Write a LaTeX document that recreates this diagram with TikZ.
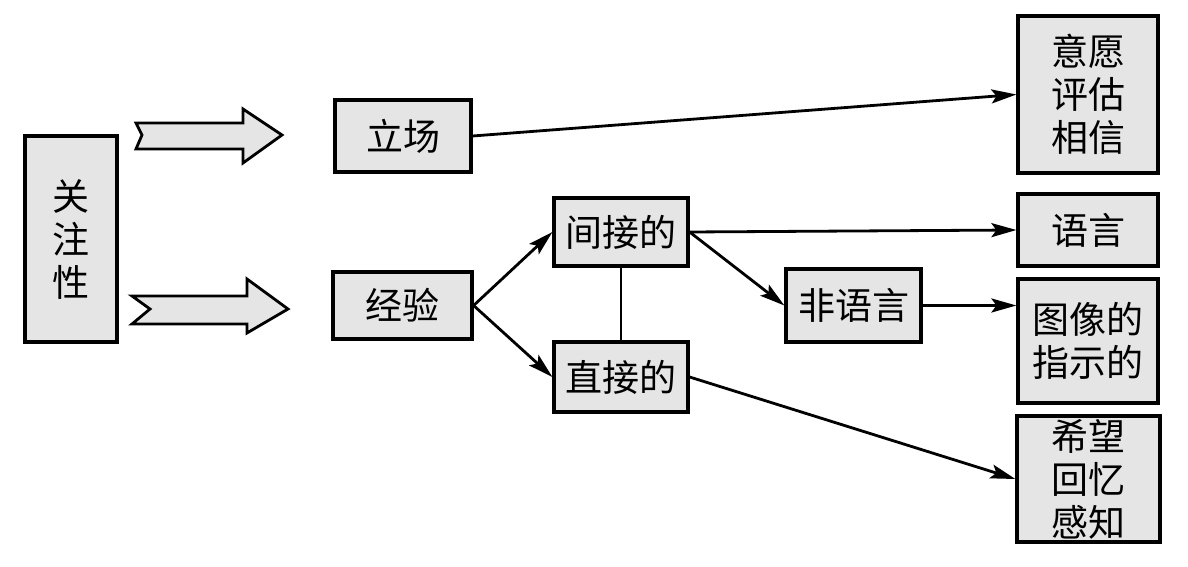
\documentclass[tikz,border=0pt]{standalone}
\usepackage{fontspec}
\newfontfamily\cjk{Noto Sans CJK SC}
\usetikzlibrary{arrows.meta}
\definecolor{boxfill}{RGB}{229,229,229}
\begin{document}
\begin{tikzpicture}[x=1pt,y=-1pt,
  box/.style={draw=black, line width=3.2pt, fill=boxfill, inner sep=0pt, align=center,
    font=\cjk\fontsize{37}{43}\selectfont},
  conn/.style={line width=2.8pt, -{Stealth[length=25pt,width=14pt,inset=5pt]}},
  plain/.style={line width=2.8pt},
  blockarrow/.style={draw=black, line width=2.8pt, fill=boxfill, line join=miter}
]
\useasboundingbox (0,0) rectangle (1188,567);
\node[box, minimum width=92pt, minimum height=206pt] (gz) at (71,239) {关\\注\\性};
\node[box, minimum width=136pt, minimum height=72pt] (lc) at (403,136) {立场};
\node[box, minimum width=139pt, minimum height=67pt] (jy) at (402.5,305.5) {经验};
\node[box, minimum width=134pt, minimum height=68pt] (jj) at (621,232) {间接的};
\node[box, minimum width=134pt, minimum height=70pt] (zj) at (621,377) {直接的};
\node[box, minimum width=135pt, minimum height=73pt] (fy) at (853.5,305.5) {非语言};
\node[box, minimum width=140pt, minimum height=157pt] (yy) at (1088,94.5) {意愿\\评估\\相信};
\node[box, minimum width=140pt, minimum height=72pt] (yu) at (1088,230) {语言};
\node[box, minimum width=140pt, minimum height=124pt] (tx) at (1088,341) {图像的\\指示的};
\node[box, minimum width=143pt, minimum height=126pt] (xw) at (1088.5,479) {希望\\回忆\\感知};

% block arrows
\draw[blockarrow] (136,123) -- (243,123) -- (243,109) -- (282,135) -- (243,163) -- (243,149) -- (136,149) -- (142,135) -- cycle;
\draw[blockarrow] (132,296) -- (247,296) -- (247,279) -- (288,309) -- (247,333) -- (247,324) -- (132,324) -- (150,309) -- cycle;

% connectors
\draw[conn] (lc.east) -- (yy.west);
\draw[conn] (jy.east) -- (jj.west);
\draw[conn] (jy.east) -- (zj.west);
\draw[plain] (jj.south) -- (zj.north);
\draw[conn] (jj.east) -- (yu.west);
\draw[conn] (jj.east) -- (fy.west);
\draw[conn] (fy.east) -- (fy.east -| tx.west);
\draw[conn] (zj.east) -- (xw.west);
\end{tikzpicture}
\end{document}
